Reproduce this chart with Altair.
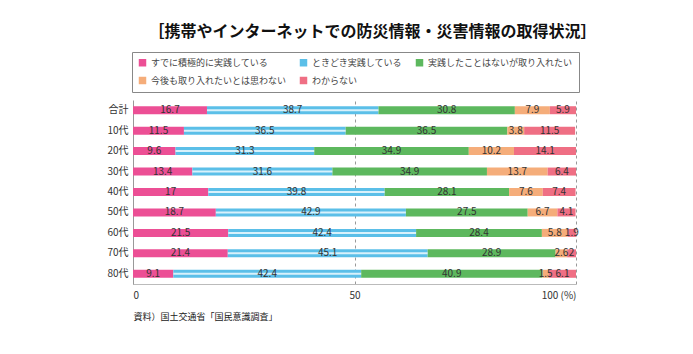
import altair as alt
import pandas as pd

ages = ["合計", "10代", "20代", "30代", "40代", "50代", "60代", "70代", "80代"]
series = [
    "すでに積極的に実践している",
    "ときどき実践している",
    "実践したことはないが取り入れたい",
    "今後も取り入れたいとは思わない",
    "わからない",
]
active = [16.7, 11.5, 9.6, 13.4, 17, 18.7, 21.5, 21.4, 9.1]
sometimes = [38.7, 36.5, 31.3, 31.6, 39.8, 42.9, 42.4, 45.1, 42.4]
want = [30.8, 36.5, 34.9, 34.9, 28.1, 27.5, 28.4, 28.9, 40.9]
notwant = [7.9, 3.8, 10.2, 13.7, 7.6, 6.7, 5.8, 2.6, 1.5]
unknown = [5.9, 11.5, 14.1, 6.4, 7.4, 4.1, 1.9, 2, 6.1]
colors = ["#ec4f95", "#5bbfe8", "#5db85e", "#f5ad7a", "#ef6f84"]

values = [active, sometimes, want, notwant, unknown]
rows = []
for si, (s, vals) in enumerate(zip(series, values)):
    for a, v in zip(ages, vals):
        rows.append({"age": a, "series": s, "order": si, "value": v})
df = pd.DataFrame(rows)

FONT = "Noto Sans CJK JP"

base = alt.Chart(df).transform_stack(
    stack="value", groupby=["age"], as_=["x0", "x1"],
    sort=[alt.SortField("order", order="ascending")]
).transform_calculate(mid="(datum.x0 + datum.x1) / 2")

yenc = alt.Y("age:N", sort=ages,
             scale=alt.Scale(paddingInner=0, paddingOuter=0),
             axis=alt.Axis(title=None, labelFontSize=10, labelColor="#333",
                           labelFont=FONT, ticks=False, labelPadding=5,
                           domainColor="#999", grid=False))

xscale = alt.Scale(domain=[0, 100], nice=False, clamp=True)

bars = base.mark_bar(size=8).encode(
    x=alt.X("x0:Q", scale=xscale,
            axis=alt.Axis(values=[0, 50, 100], title="資料）国土交通省「国民意識調査」",
                          titleAnchor="start", titleAlign="left", titleFontSize=9,
                          titleFontWeight="normal", titleFont=FONT, titleColor="#222",
                          titlePadding=12, labelFontSize=10, labelColor="#333",
                          labelFont=FONT, labelPadding=6, ticks=False,
                          labelExpr="datum.value == 100 ? '100 (%)' : datum.label",
                          grid=True, gridDash=[3, 3], gridColor="#999",
                          domainColor="#bbb")),
    x2="x1:Q",
    y=yenc,
    color=alt.Color("series:N", scale=alt.Scale(domain=series, range=colors),
                    legend=alt.Legend(title=None, orient="none", legendX=-1, legendY=-48,
                                      direction="horizontal", columns=3,
                                      symbolType="square", symbolSize=56,
                                      symbolStrokeWidth=0, labelFontSize=9,
                                      labelFont=FONT, labelColor="#444",
                                      padding=6, strokeColor="#888",
                                      fillColor="white", columnPadding=12,
                                      rowPadding=8, labelLimit=300)),
)

stripe = base.transform_filter(alt.datum.order == 1).mark_bar(size=2, color="#d8f1fb").encode(
    x=alt.X("x0:Q", scale=xscale), x2="x1:Q", y=alt.Y("age:N", sort=ages)
)

labels = base.mark_text(fontSize=10, color="#333", font=FONT).encode(
    x=alt.X("mid:Q", scale=xscale), y=alt.Y("age:N", sort=ages), text="value:Q"
)

chart = alt.layer(bars, stripe, labels).properties(
    width=443, height=184,
    padding={"left": 133, "top": 100, "right": 117, "bottom": 70},
    autosize=alt.AutoSizeParams(type="none"),
    title=alt.TitleParams(text="［携帯やインターネットでの防災情報・災害情報の取得状況］",
                          fontSize=16, fontWeight="bold", font=FONT, anchor="middle",
                          dx=18, offset=12, color="#111"),
    background="white",
).configure_view(stroke=None)

chart.save("out.html", embed_options={"renderer": "svg", "actions": False})
